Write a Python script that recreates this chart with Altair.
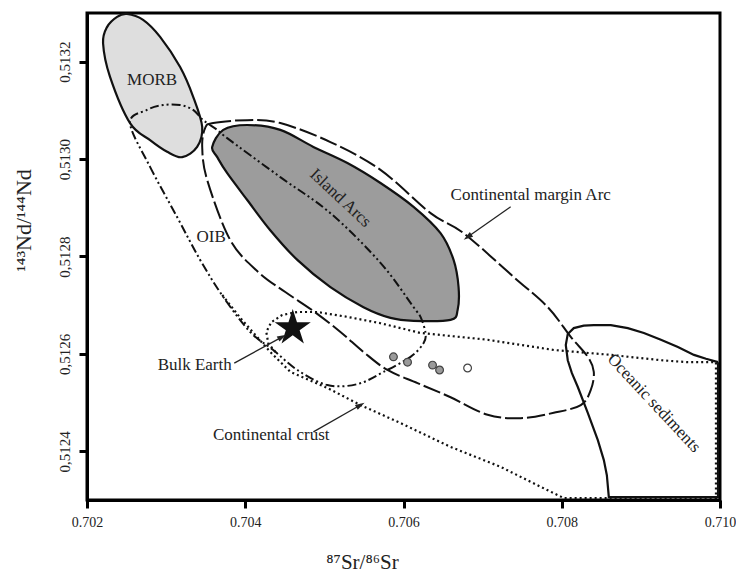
import altair as alt
import pandas as pd

# ---- field outlines (87Sr/86Sr, 143Nd/144Nd) ----
MORB_SR = [0.702506, 0.702709, 0.702924, 0.703177, 0.703342, 0.703456, 0.703392, 0.703203,
           0.703013, 0.702797, 0.702544, 0.702291, 0.702203, 0.702253, 0.702380]
MORB_ND = [0.513298, 0.513286, 0.513251, 0.513189, 0.513128, 0.513066, 0.513025, 0.513004,
           0.513015, 0.513039, 0.513074, 0.513169, 0.513238, 0.513271, 0.513292]

ARC_SR = [0.703582, 0.703722, 0.704025, 0.704443, 0.704861, 0.705291, 0.705709, 0.706127,
          0.706468, 0.706633, 0.706696, 0.706684, 0.706595, 0.706127, 0.705835, 0.705494,
          0.705076, 0.704658, 0.704316, 0.704025, 0.703772, 0.703646]
ARC_ND = [0.513025, 0.513060, 0.513070, 0.513060, 0.513025, 0.512992, 0.512951, 0.512902,
          0.512848, 0.512793, 0.512737, 0.512690, 0.512670, 0.512668, 0.512674, 0.512696,
          0.512737, 0.512793, 0.512854, 0.512916, 0.512971, 0.513004]

CMA_SR = [0.703494, 0.703595, 0.704025, 0.704443, 0.705076, 0.705709, 0.706342, 0.706759,
          0.707392, 0.707823, 0.708114, 0.708329, 0.708405, 0.708367, 0.708241, 0.707899,
          0.707481, 0.707063, 0.706595, 0.706177, 0.705797, 0.705494, 0.705203, 0.704861,
          0.704506, 0.704165, 0.703810, 0.703519, 0.703456]
CMA_ND = [0.513064, 0.513074, 0.513080, 0.513074, 0.513035, 0.512978, 0.512889, 0.512848,
          0.512758, 0.512696, 0.512635, 0.512594, 0.512563, 0.512526, 0.512495, 0.512479,
          0.512468, 0.512475, 0.512511, 0.512540, 0.512567, 0.512604, 0.512645, 0.512688,
          0.512727, 0.512768, 0.512834, 0.512957, 0.513025]

OIB_SR = [0.702544, 0.702797, 0.703139, 0.703430, 0.703722, 0.704063, 0.704354, 0.704658,
          0.705038, 0.705418, 0.705747, 0.706089, 0.706253, 0.706278, 0.706215, 0.706127,
          0.705709, 0.705076, 0.704443, 0.703772, 0.703646, 0.703468, 0.703342, 0.703177,
          0.702962, 0.702759]
OIB_ND = [0.513074, 0.512984, 0.512881, 0.512793, 0.512717, 0.512645, 0.512608, 0.512567,
          0.512536, 0.512538, 0.512563, 0.512594, 0.512622, 0.512643, 0.512676, 0.512696,
          0.512787, 0.512889, 0.512963, 0.513043, 0.513060, 0.513080, 0.513101, 0.513111,
          0.513111, 0.513101]

CRUST_SR = [0.703709, 0.703937, 0.704127, 0.704316, 0.704570, 0.705038, 0.705456, 0.705962,
            0.706595, 0.707228, 0.707734, 0.708025, 0.709949, 0.709949, 0.709595, 0.709253,
            0.708620, 0.707899, 0.707063, 0.706215, 0.705709, 0.705291, 0.704911, 0.704658,
            0.704468, 0.704329, 0.704266, 0.704291, 0.704380]
CRUST_ND = [0.512721, 0.512674, 0.512639, 0.512604, 0.512563, 0.512530, 0.512495, 0.512458,
            0.512409, 0.512368, 0.512327, 0.512304, 0.512304, 0.512583, 0.512583, 0.512587,
            0.512598, 0.512608, 0.512629, 0.512643, 0.512663, 0.512676, 0.512686, 0.512686,
            0.512680, 0.512665, 0.512645, 0.512622, 0.512604]

SED_SR = [0.709975, 0.709823, 0.709671, 0.709468, 0.709253, 0.709038, 0.708835, 0.708620,
          0.708405, 0.708278, 0.708152, 0.708076, 0.708051, 0.708076, 0.708127, 0.708203,
          0.708329, 0.708456, 0.708532, 0.708570, 0.708595, 0.709975, 0.709975]
SED_ND = [0.512583, 0.512590, 0.512598, 0.512614, 0.512629, 0.512643, 0.512653, 0.512659,
          0.512659, 0.512658, 0.512653, 0.512641, 0.512618, 0.512587, 0.512561, 0.512532,
          0.512479, 0.512423, 0.512382, 0.512351, 0.512306, 0.512306, 0.512583]

# ---- samples ----
SAMPLE_SR = [0.705873, 0.706051, 0.706367, 0.706456, 0.706810]
SAMPLE_ND = [0.512594, 0.512583, 0.512577, 0.512567, 0.512571]
SAMPLE_KIND = ["grey", "grey", "grey", "grey", "open"]

BULK_SR = [0.70460]
BULK_ND = [0.512653]

# ---- labels ----
LABEL_TEXT = ["MORB", "Island Arcs", "OIB", "Continental margin Arc", "Bulk Earth",
              "Continental crust", "Oceanic sediments"]
LABEL_SR = [0.702823, 0.705203, 0.703570, 0.707608, 0.703361, 0.704329, 0.709165]
LABEL_ND = [0.513162, 0.512920, 0.512840, 0.512926, 0.512577, 0.512433, 0.512499]
LABEL_ANGLE = [0, 43, 0, 0, 0, 0, 47]

ARROW_SR0 = [0.707354, 0.703861, 0.704861]
ARROW_ND0 = [0.512902, 0.512581, 0.512440]
ARROW_SR1 = [0.706810, 0.704468, 0.705456]
ARROW_ND1 = [0.512840, 0.512635, 0.512495]
ARROW_ANGLE = [235, 62, 60]

X_TICKS = [0.702, 0.704, 0.706, 0.708, 0.710]
Y_TICKS = [0.5124, 0.5126, 0.5128, 0.5130, 0.5132]

FONT = "Liberation Serif"

xscale = alt.Scale(domain=[0.702, 0.710], nice=False, zero=False)
yscale = alt.Scale(domain=[0.5123, 0.5133], nice=False, zero=False)

xaxis = alt.Axis(values=X_TICKS, format=".3f", grid=False, labelFont=FONT, labelFontSize=14,
                 labelColor="#222", labelPadding=7, tickSize=8, tickWidth=3, tickColor="black",
                 domainColor="black", domainWidth=3, title="⁸⁷Sr/⁸⁶Sr", titleFont=FONT,
                 titleFontSize=21, titleFontWeight="normal", titleColor="#222",
                 titleX=275, titleY=68, titleBaseline="alphabetic",
                 titleAlign="center", labelFlush=False)
yaxis = alt.Axis(values=Y_TICKS, labelExpr="replace(format(datum.value, '.4f'), '.', ',')",
                 grid=False, labelFont=FONT, labelFontSize=15, labelColor="#222",
                 labelAngle=-90, labelAlign="center", labelBaseline="bottom", labelPadding=7,
                 tickSize=8, tickWidth=3, tickColor="black", domainColor="black", domainWidth=3,
                 title="¹⁴³Nd/¹⁴⁴Nd", titleFont=FONT, titleFontSize=22,
                 titleFontWeight="normal", titleColor="#222", titleAngle=-90,
                 titleX=-64, titleY=207, titleAlign="center", titleBaseline="middle",
                 labelFlush=False)

X = alt.X("sr:Q", scale=xscale, axis=xaxis)
Y = alt.Y("nd:Q", scale=yscale, axis=yaxis)


def shape(sr, nd):
    return pd.DataFrame({"sr": sr, "nd": nd, "i": list(range(len(sr)))})


def outline(sr, nd, **mark):
    return alt.Chart(shape(sr, nd)).mark_line(**mark).encode(x=X, y=Y, order="i:Q")


morb = outline(MORB_SR, MORB_ND, interpolate="cardinal-closed", fill="#dedede",
               stroke="#111", strokeWidth=2.2)
arcs = outline(ARC_SR, ARC_ND, interpolate="cardinal-closed", fill="#9c9c9c",
               stroke="#111", strokeWidth=2.2)
cma = outline(CMA_SR, CMA_ND, interpolate="cardinal-closed", stroke="#111",
              strokeWidth=2, strokeDash=[18, 4])
oib = outline(OIB_SR, OIB_ND, interpolate="cardinal-closed", stroke="#111",
              strokeWidth=2, strokeDash=[9, 3, 2, 3, 2, 3])
crust = outline(CRUST_SR, CRUST_ND, interpolate="linear", stroke="#111",
                strokeWidth=2.2, strokeDash=[2, 3])
sed = outline(SED_SR, SED_ND, interpolate="linear", stroke="#111", strokeWidth=2.2)

samples_df = pd.DataFrame({"sr": SAMPLE_SR, "nd": SAMPLE_ND, "kind": SAMPLE_KIND})
samples = alt.Chart(samples_df).mark_point(filled=True, size=60, strokeWidth=1.2,
                                           stroke="#444", opacity=1).encode(
    x=X, y=Y,
    fill=alt.Fill("kind:N", scale=alt.Scale(domain=["grey", "open"],
                                            range=["#9a9a9a", "#ffffff"]), legend=None))

STAR = ("M0,-1L0.2245,-0.309L0.951,-0.309L0.363,0.118L0.588,0.809L0,0.382"
        "L-0.588,0.809L-0.363,0.118L-0.951,-0.309L-0.2245,-0.309Z")
star = alt.Chart(pd.DataFrame({"sr": BULK_SR, "nd": BULK_ND})).mark_point(
    shape=STAR, size=1444, filled=True, fill="#111", strokeWidth=0, opacity=1).encode(x=X, y=Y)

labels_df = pd.DataFrame({"sr": LABEL_SR, "nd": LABEL_ND, "t": LABEL_TEXT, "a": LABEL_ANGLE})
labels = alt.Chart(labels_df).mark_text(font=FONT, fontSize=17, color="#222",
                                        align="center", baseline="middle").encode(
    x=X, y=Y, text="t:N", angle=alt.Angle("a:Q", scale=None))

arrows_df = pd.DataFrame({"sr": ARROW_SR0, "nd": ARROW_ND0, "sr1": ARROW_SR1,
                          "nd1": ARROW_ND1, "a": ARROW_ANGLE})
arrow_lines = alt.Chart(arrows_df).mark_rule(color="#222", strokeWidth=1.3).encode(
    x=X, y=Y, x2="sr1:Q", y2="nd1:Q")
HEAD = "M0,-1L0.6,1L-0.6,1Z"
arrow_heads = alt.Chart(arrows_df).mark_point(shape=HEAD, size=90, filled=True,
                                              fill="#222", strokeWidth=0, opacity=1).encode(
    x=alt.X("sr1:Q", scale=xscale, axis=xaxis), y=alt.Y("nd1:Q", scale=yscale, axis=yaxis),
    angle=alt.Angle("a:Q", scale=None))

chart = alt.layer(morb, arcs, cma, oib, crust, sed, samples, star, labels,
                  arrow_lines, arrow_heads).properties(
    width=633, height=487,
    padding={"left": 87, "top": 13, "right": 16, "bottom": 77},
    autosize=alt.AutoSizeParams(type="none"),
    background="white",
).configure_view(stroke="black", strokeWidth=3)

chart.save("out.html", embed_options={"renderer": "svg", "actions": False})
